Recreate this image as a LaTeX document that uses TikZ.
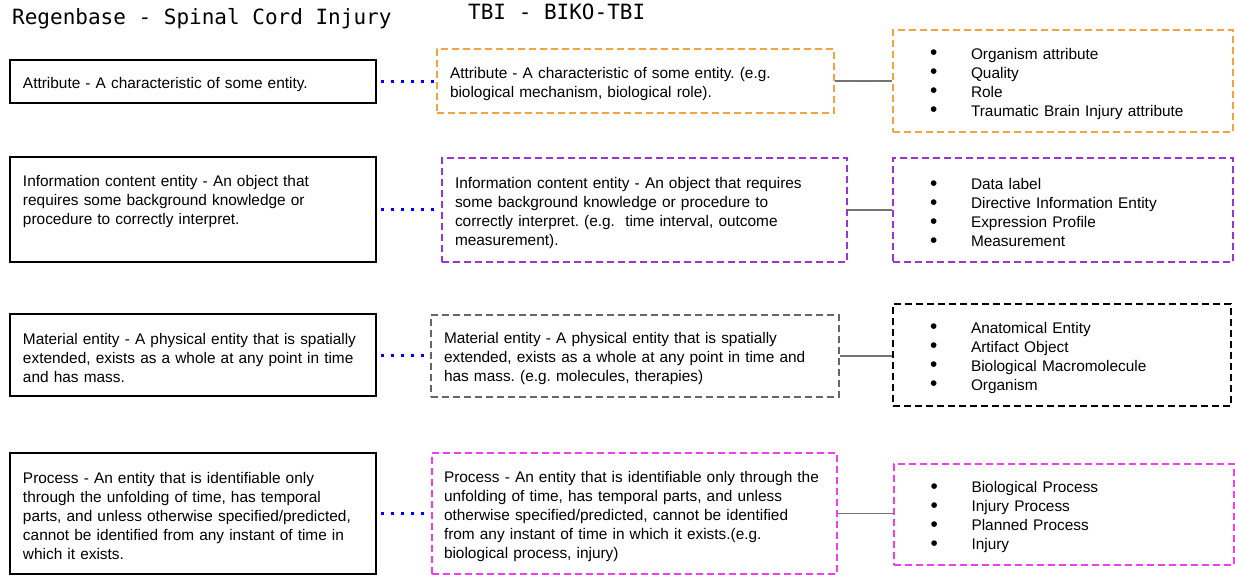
\documentclass[tikz,border=0pt]{standalone}
\usepackage{fontspec}
\setmainfont{Liberation Sans}
\newfontfamily\headfont{DejaVu Sans Mono}
\usepackage{xcolor}
\usepackage{tikz}
\usetikzlibrary{positioning}
\frenchspacing

\definecolor{attrorange}{HTML}{F5A33F}
\definecolor{infopurple}{HTML}{9B33D6}
\definecolor{matgray}{HTML}{666666}
\definecolor{procpink}{HTML}{F23CF0}
\definecolor{linkblue}{HTML}{0000FF}

\newcommand{\bulletitem}{\makebox[41pt][l]{\raisebox{-0.8pt}{\scalebox{1.35}{\textbullet}}}}

\begin{document}
\begin{tikzpicture}[
        x=1pt, y=-1pt,
        font=\fontsize{15.4pt}{19pt}\selectfont,
        heading/.style={anchor=base west, inner sep=0pt, font=\headfont\fontsize{21pt}{25pt}\selectfont},
        textbox/.style={inner ysep=0pt, align=left, execute at begin node={\rule{0pt}{16.5pt}}},
        regenbox/.style={textbox, draw=black, line width=1.2pt, inner xsep=13pt, text width=340pt},
        bikobox/.style={textbox, draw=#1, line width=2pt, dash pattern=on 7pt off 4pt, inner xsep=13pt},
        listbox/.style={textbox, draw=#1, line width=2pt, dash pattern=on 7pt off 4pt, inner xsep=37pt, text width=266pt},
        dotlink/.style={draw=linkblue, line width=3pt, dash pattern=on 3pt off 7pt, shorten <=4pt, shorten >=2pt},
        greylink/.style={draw=black!55, line width=1.3pt}
    ]
    \useasboundingbox (0,0) rectangle (1235,575);

    % ==========================================
    % Column headings
    % ==========================================
    \node[heading] (head_regen) at (12, 25) {Regenbase - Spinal Cord Injury};
    \node[heading] (head_biko) at (468, 20) {TBI - BIKO-TBI};

    % ==========================================
    % (A) Attribute
    % ==========================================
    \node[regenbox, minimum height=43pt] (regen_a) at (193, 81.5) {Attribute - A characteristic of some entity.};
    \node[bikobox=attrorange, text width=371pt, minimum height=64pt] (biko_a) at (635.5, 81)
        {Attribute - A characteristic of some entity. (e.g.\\ biological mechanism, biological role).};
    \node[listbox=attrorange, minimum height=102pt] (list_a) at (1063, 81)
        {\bulletitem Organism attribute\\ \bulletitem Quality\\ \bulletitem Role\\ \bulletitem Traumatic Brain Injury attribute};

    \draw[dotlink] (regen_a.east) -- (regen_a.east -| biko_a.west);
    \draw[greylink] (biko_a.east) -- (biko_a.east -| list_a.west);

    % ==========================================
    % (B) Information content entity
    % ==========================================
    \node[regenbox, minimum height=105pt] (regen_b) at (193, 209.5)
        {Information content entity - An object that\\ requires some background knowledge or\\ procedure to correctly interpret.\\ \strut};
    \node[bikobox=infopurple, text width=379pt, minimum height=104pt] (biko_b) at (644.5, 210)
        {Information content entity - An object that requires\\ some background knowledge or procedure to\\ correctly interpret. (e.g.\ \ time interval, outcome\\ measurement).};
    \node[listbox=infopurple, minimum height=104pt] (list_b) at (1063, 210)
        {\bulletitem Data label\\ \bulletitem Directive Information Entity\\ \bulletitem Expression Profile\\ \bulletitem Measurement};

    \draw[dotlink] (regen_b.east) -- (regen_b.east -| biko_b.west);
    \draw[greylink] (biko_b.east) -- (biko_b.east -| list_b.west);

    % ==========================================
    % (C) Material entity
    % ==========================================
    \node[regenbox, minimum height=82pt] (regen_c) at (193, 355)
        {Material entity - A physical entity that is spatially\\ extended, exists as a whole at any point in time\\ and has mass.};
    \node[bikobox=matgray, text width=382pt, minimum height=82pt] (biko_c) at (635, 356)
        {Material entity - A physical entity that is spatially\\ extended, exists as a whole at any point in time and\\ has mass. (e.g. molecules, therapies)};
    \node[listbox=black, text width=264pt, minimum height=102pt] (list_c) at (1062, 355)
        {\bulletitem Anatomical Entity\\ \bulletitem Artifact Object\\ \bulletitem Biological Macromolecule\\ \bulletitem Organism};

    \draw[dotlink] (regen_c.east) -- (regen_c.east -| biko_c.west);
    \draw[greylink] (biko_c.east) -- (biko_c.east -| list_c.west);

    % ==========================================
    % (D) Process
    % ==========================================
    \node[regenbox, minimum height=121pt] (regen_d) at (193, 513.5)
        {Process - An entity that is identifiable only\\ through the unfolding of time, has temporal\\ parts, and unless otherwise specified/predicted,\\ cannot be identified from any instant of time in\\ which it exists.};
    \node[bikobox=procpink, inner xsep=12pt, text width=381pt, minimum height=121pt] (biko_d) at (634.5, 513.5)
        {Process - An entity that is identifiable only through the\\ unfolding of time, has temporal parts, and unless\\ otherwise specified/predicted, cannot be identified\\ from any instant of time in which it exists.(e.g.\\ biological process, injury)};
    \node[listbox=procpink, minimum height=101pt] (list_d) at (1063.5, 514.5)
        {\bulletitem Biological Process\\ \bulletitem Injury Process\\ \bulletitem Planned Process\\ \bulletitem Injury};

    \draw[dotlink] (regen_d.east) -- (regen_d.east -| biko_d.west);
    \draw[greylink] (biko_d.east) -- (biko_d.east -| list_d.west);

\end{tikzpicture}
\end{document}
